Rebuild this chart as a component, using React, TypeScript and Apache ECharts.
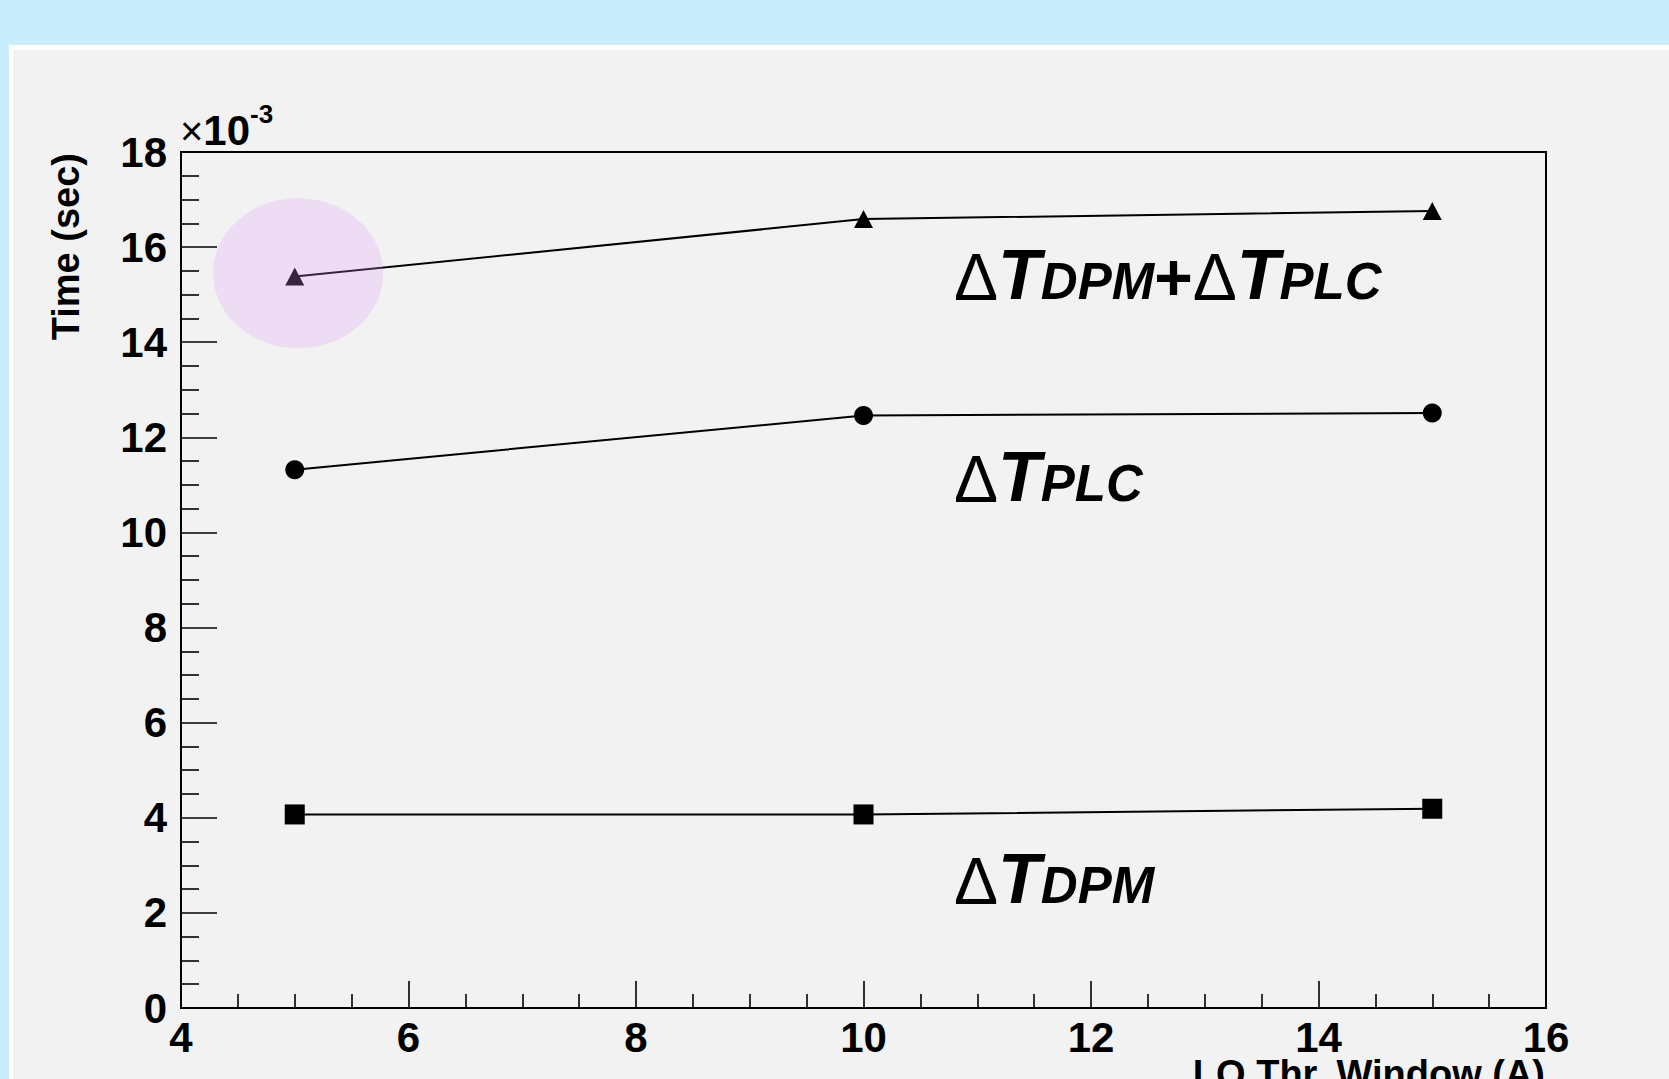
import React, { useEffect, useRef } from "react";
import * as echarts from "echarts";

// ---- data (y values in units of 10^-3 s) ----
const xValues = [5, 10, 15];
const sumValues = [15.38, 16.59, 16.76]; // ΔT_DPM + ΔT_PLC
const plcValues = [11.32, 12.46, 12.51]; // ΔT_PLC
const dpmValues = [4.07, 4.07, 4.19]; // ΔT_DPM
const highlightPoint = [5.03, 15.45];

const xMin = 4;
const xMax = 16;
const xStep = 2;
const yMin = 0;
const yMax = 18;
const yStep = 2;

const xTitle = "LO Thr. Window (A)";
const yTitle = "Time (sec)";

const FONT = "'Liberation Sans', Arial, Helvetica, sans-serif";

const labelRich = {
  d: { fontFamily: FONT, fontSize: 66, fontWeight: "normal", fontStyle: "normal", color: "#000", padding: [3, 0, 0, 0] },
  t: { fontFamily: FONT, fontSize: 70, fontWeight: "bold", fontStyle: "italic", color: "#000" },
  s: { fontFamily: FONT, fontSize: 51, fontWeight: "bold", fontStyle: "italic", color: "#000", padding: [13, 0, 0, 0] },
  p: { fontFamily: FONT, fontSize: 66, fontWeight: "bold", fontStyle: "normal", color: "#000", padding: [3, 0, 0, 0] },
};

function toPairs(vals: number[]) {
  return xValues.map((x, i) => [x, vals[i]]);
}

export default function App() {
  const ref = useRef<HTMLDivElement>(null);
  useEffect(() => {
    if (!ref.current) return;
    const chart = echarts.init(ref.current, null, { renderer: "svg" });
    const tickStyle = { color: "#000", width: 1.6 };
    const option: any = {
      animation: false,
      backgroundColor: "#c8eefc",
      grid: {
        left: 181,
        right: 123,
        top: 152,
        bottom: 71,
        show: true,
        borderColor: "#000",
        borderWidth: 2,
        backgroundColor: "transparent",
      },
      xAxis: {
        type: "value",
        min: xMin,
        max: xMax,
        interval: xStep,
        axisLine: { show: true, onZero: false, lineStyle: { color: "#000", width: 2 } },
        axisTick: { show: true, inside: true, length: 27, lineStyle: tickStyle },
        minorTick: { show: true, splitNumber: 4, length: 14, lineStyle: tickStyle },
        splitLine: { show: false },
        minorSplitLine: { show: false },
        axisLabel: {
          color: "#000",
          fontSize: 42,
          fontWeight: "bold",
          fontFamily: FONT,
          margin: 8,
          showMinLabel: true,
          showMaxLabel: true,
        },
      },
      yAxis: {
        type: "value",
        min: yMin,
        max: yMax,
        interval: yStep,
        z: 4,
        axisLine: { show: true, onZero: false, lineStyle: { color: "#000", width: 2 } },
        axisTick: { show: true, inside: true, length: 36, lineStyle: tickStyle },
        minorTick: { show: true, splitNumber: 4, length: 18, lineStyle: tickStyle },
        splitLine: { show: false },
        minorSplitLine: { show: false },
        axisLabel: {
          color: "#000",
          fontSize: 42,
          fontWeight: "bold",
          fontFamily: FONT,
          margin: 14,
          showMinLabel: true,
          showMaxLabel: true,
        },
      },
      series: [
        {
          name: "sum",
          type: "line",
          data: toPairs(sumValues),
          symbol: "triangle",
          symbolSize: [19, 18],
          itemStyle: { color: "#000" },
          lineStyle: { color: "#000", width: 2 },
          z: 2,
        },
        {
          name: "plc",
          type: "line",
          data: toPairs(plcValues),
          symbol: "circle",
          symbolSize: 19,
          itemStyle: { color: "#000" },
          lineStyle: { color: "#000", width: 2 },
          z: 2,
        },
        {
          name: "dpm",
          type: "line",
          data: toPairs(dpmValues),
          symbol: "rect",
          symbolSize: 20,
          itemStyle: { color: "#000" },
          lineStyle: { color: "#000", width: 2 },
          z: 2,
        },
        {
          name: "highlight",
          type: "scatter",
          data: [highlightPoint],
          symbol: "circle",
          symbolSize: [170, 150],
          itemStyle: { color: "rgba(222,149,249,0.3)" },
          silent: true,
          z: 3,
        },
      ],
      graphic: [
        { type: "rect", z: -2, silent: true, shape: { x: 9, y: 45, width: 1700, height: 1100 }, style: { fill: "#ffffff" } },
        { type: "rect", z: -1, silent: true, shape: { x: 13, y: 50, width: 1700, height: 1100 }, style: { fill: "#f2f2f2" } },
        {
          type: "text",
          x: 180,
          y: 130.5,
          z: 5,
          style: {
            text: "{a|×}{b|10}{c|-3}",
            verticalAlign: "middle",
            align: "left",
            rich: {
              a: { fontFamily: FONT, fontSize: 40, fontWeight: "normal", color: "#000" },
              b: { fontFamily: FONT, fontSize: 42, fontWeight: "bold", color: "#000" },
              c: { fontFamily: FONT, fontSize: 26, fontWeight: "bold", color: "#000", padding: [0, 0, 33, 0] },
            },
          },
        },
        {
          type: "text",
          x: 66,
          y: 153,
          rotation: Math.PI / 2,
          z: 5,
          style: {
            text: yTitle,
            fontFamily: FONT,
            fontSize: 38,
            fontWeight: "bold",
            fill: "#000",
            align: "right",
            verticalAlign: "middle",
          },
        },
        {
          type: "text",
          x: 1545,
          y: 1055,
          z: 5,
          style: {
            text: xTitle,
            fontFamily: FONT,
            fontSize: 38,
            fontWeight: "bold",
            fill: "#000",
            align: "right",
            verticalAlign: "top",
          },
        },
        {
          type: "text",
          x: 954,
          y: 275,
          z: 5,
          style: { text: "{d|Δ}{t|T}{s|DPM}{p|+}{d|Δ}{t|T}{s|PLC}", align: "left", verticalAlign: "middle", rich: labelRich },
        },
        {
          type: "text",
          x: 954,
          y: 477,
          z: 5,
          style: { text: "{d|Δ}{t|T}{s|PLC}", align: "left", verticalAlign: "middle", rich: labelRich },
        },
        {
          type: "text",
          x: 954,
          y: 879,
          z: 5,
          style: { text: "{d|Δ}{t|T}{s|DPM}", align: "left", verticalAlign: "middle", rich: labelRich },
        },
      ],
    };
    chart.setOption(option);
    return () => chart.dispose();
  }, []);
  return (
    <div
      ref={ref}
      style={{ position: "fixed", left: 0, top: 0, width: 1669, height: 1079 }}
    />
  );
}
